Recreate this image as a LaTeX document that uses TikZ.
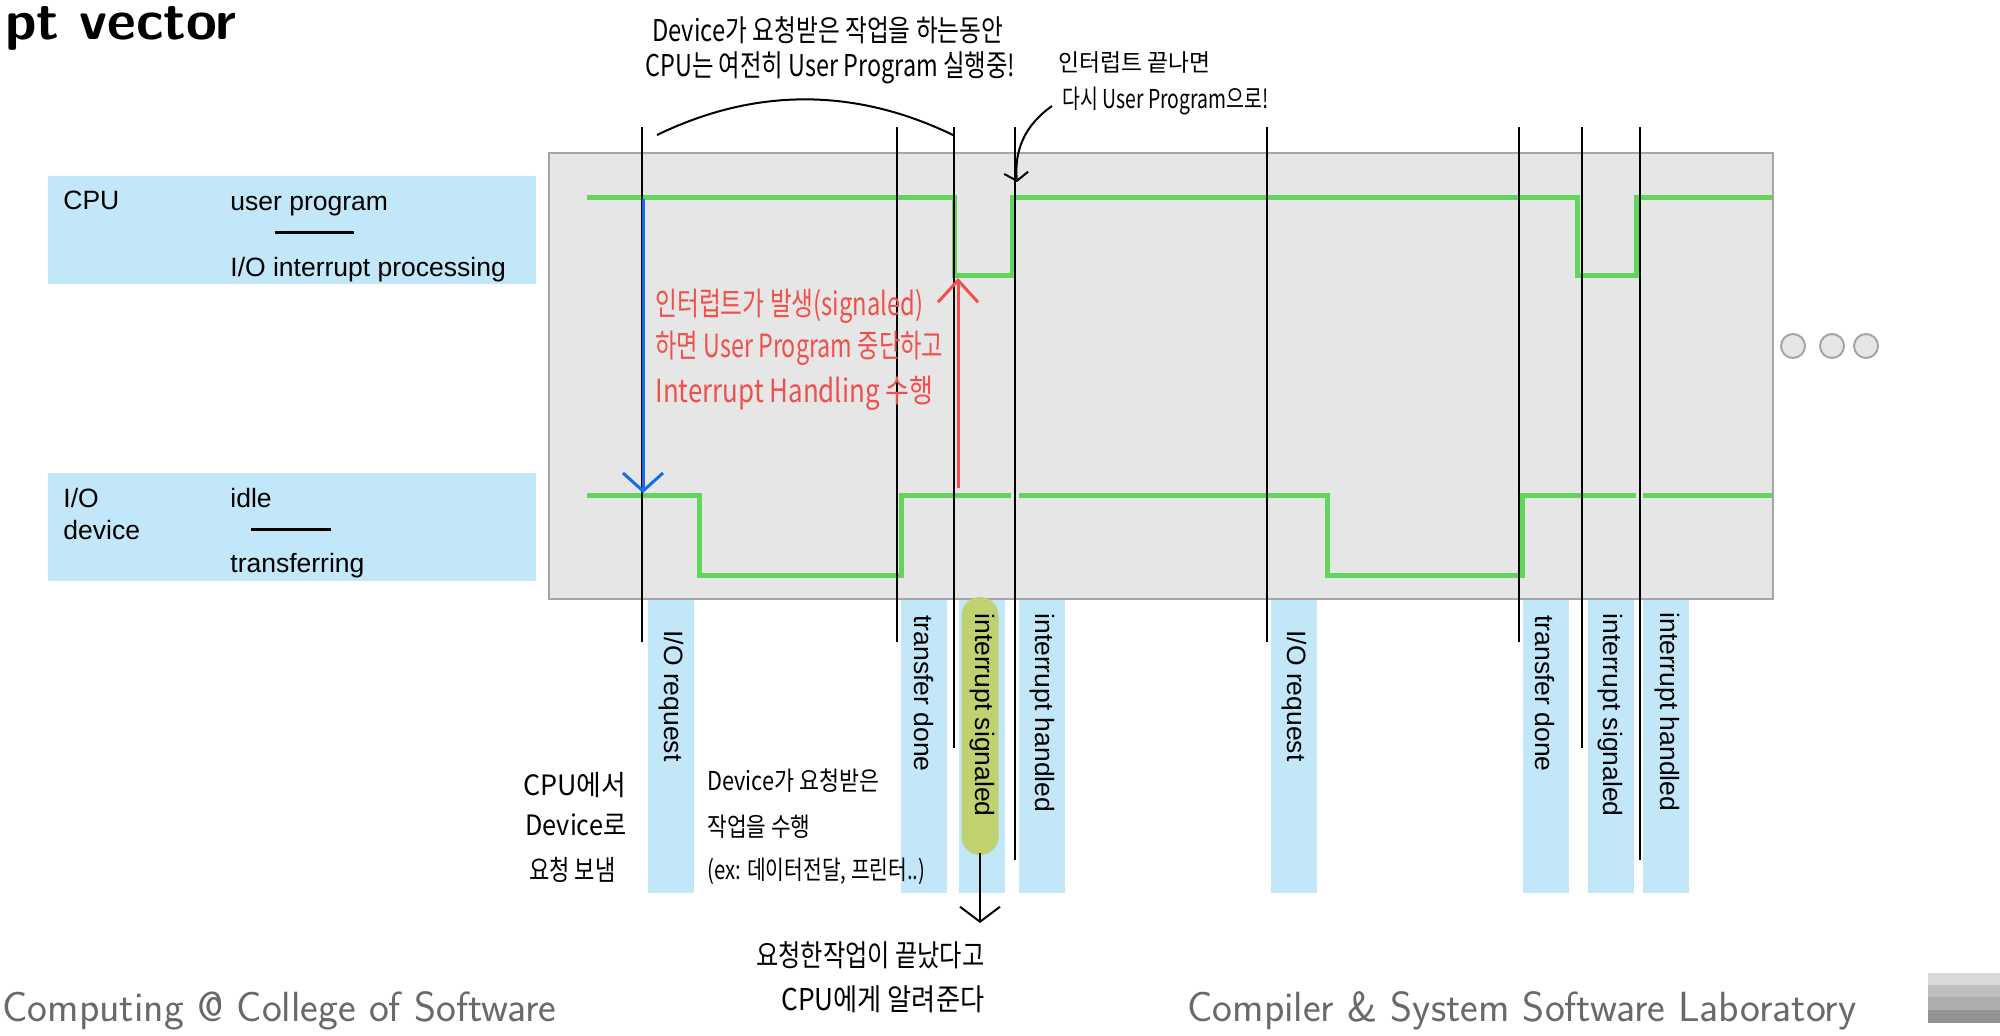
\documentclass[tikz,border=0pt]{standalone}
\usepackage{fontspec}
\setmainfont{Liberation Sans}
\newfontfamily\kr{Noto Sans CJK KR}
\usetikzlibrary{arrows.meta}
\definecolor{boxblue}{RGB}{193,231,249}
\definecolor{sigcol}{RGB}{192,210,112}
\definecolor{grn}{RGB}{98,214,92}
\definecolor{panelfill}{RGB}{230,230,230}
\definecolor{panelline}{RGB}{165,165,165}
\definecolor{anncol}{RGB}{240,80,75}
\definecolor{blucol}{RGB}{20,110,230}
\definecolor{footcol}{RGB}{105,105,105}
\newcommand\hw[2]{\resizebox{\dimexpr#1pt/2\relax}{\height}{#2}}
\newcommand\fsz[1]{\fontsize{#1}{#1}\selectfont}
\tikzset{
  lbox/.style={fill=boxblue, inner sep=0, anchor=north west, minimum width=244pt, minimum height=54pt},
  lbl/.style={inner sep=0, font=\fsz{13.25pt}},
  barbox/.style={fill=boxblue, inner sep=0, anchor=north west, minimum width=23pt, minimum height=146.5pt},
  rlbl/.style={inner sep=0, rotate=-90, anchor=west, font=\fsz{13.25pt}},
  vline/.style={line width=1pt, black},
  grnline/.style={line width=2.5pt, grn, line cap=butt, line join=miter},
  handln/.style={line width=1pt, black},
  handtxt/.style={inner sep=0, anchor=west, font=\kr\fsz{#1}},
  redtxt/.style={inner sep=0, anchor=west, text=anncol, font=\kr\fsz{16pt}},
  dotc/.style={circle, draw=panelline, fill=panelfill, line width=1pt, minimum size=12pt, inner sep=0},
  foottxt/.style={inner sep=0, anchor=base west, text=footcol, font=\sffamily\fsz{21.1pt}}
}
\begin{document}
\begin{tikzpicture}[x=0.5pt,y=-0.5pt]
\useasboundingbox (0,0) rectangle (2000,1035);

% title
\node[inner sep=0, anchor=base west, font=\sffamily\bfseries\fsz{28pt}] (title) at (5,39) {pt vector};

% left legend boxes
\node[lbox] (cpubox) at (48,176) {};
\node[lbl, anchor=base west] (cpu) at (63,209) {CPU};
\node[lbl, anchor=base west] (userprog) at (230,210) {user program};
\draw[line width=1.5pt] (275,232) -- (354,232);
\node[lbl, anchor=base west] (iointr) at (230,276) {I/O interrupt processing};

\node[lbox] (iobox) at (48,473) {};
\node[lbl, anchor=base west] (io) at (63,507) {I/O};
\node[lbl, anchor=base west] (device) at (63,539) {device};
\node[lbl, anchor=base west] (idle) at (230,507) {idle};
\draw[line width=1.5pt] (251,529) -- (331,529);
\node[lbl, anchor=base west] (transferring) at (230,572) {transferring};

% panel
\node[draw=panelline, fill=panelfill, line width=1pt, inner sep=0, anchor=north west,
      minimum width=612pt, minimum height=223pt] (panel) at (548,152) {};

% dots
\node[dotc] (dot1) at (1793,346) {};
\node[dotc] (dot2) at (1832,346) {};
\node[dotc] (dot3) at (1866,346) {};

% green timelines
\draw[grnline] (587,197) -- (954,197) -- (954,275) -- (1012,275) -- (1012,197) -- (1577,197)
   -- (1577,275) -- (1636,275) -- (1636,197) -- (1772,197);
\draw[grnline] (587,495) -- (699,495) -- (699,575) -- (901,575) -- (901,495) -- (1011,495);
\draw[grnline] (1019,495) -- (1327,495) -- (1327,575) -- (1522,575) -- (1522,495) -- (1636,495);
\draw[grnline] (1643,495) -- (1772,495);

% bars below
\node[barbox] (b1) at (648,600) {};
\node[barbox] (b2) at (901,600) {};
\node[barbox] (b3) at (959,600) {};
\node[barbox] (b4) at (1019,600) {};
\node[barbox] (b5) at (1271,600) {};
\node[barbox] (b6) at (1523,600) {};
\node[barbox] (b7) at (1588,600) {};
\node[barbox] (b8) at (1643,600) {};
\node[fill=sigcol, inner sep=0, rounded corners=9.25pt, minimum width=18.5pt, minimum height=129pt] (hl) at (980,726) {};

% rotated labels
\node[rlbl] (l1) at (671,630) {I/O request};
\node[rlbl] (l2) at (924,615) {transfer done};
\node[rlbl] (l3) at (982,613) {interrupt signaled};
\node[rlbl] (l4) at (1042,613) {interrupt handled};
\node[rlbl] (l5) at (1294,630) {I/O request};
\node[rlbl] (l6) at (1545,615) {transfer done};
\node[rlbl] (l7) at (1610,613) {interrupt signaled};
\node[rlbl] (l8) at (1667,612) {interrupt handled};

% vertical event lines
\draw[vline] (642,127) -- (642,642);
\draw[vline] (897,127) -- (897,642);
\draw[vline] (954,127) -- (954,748);
\draw[vline] (1015,127) -- (1015,860);
\draw[vline] (1267,127) -- (1267,642);
\draw[vline] (1519,127) -- (1519,642);
\draw[vline] (1582,127) -- (1582,748);
\draw[vline] (1640,127) -- (1640,860);

% blue and red arrows
\coordinate (bs) at (643,199);
\coordinate (be) at (643,493);
\draw[blucol, line width=1.5pt, -{Straight Barb[length=9pt, width=20pt]}] (bs) -- (be);
\coordinate (rs) at (958,488);
\coordinate (re) at (958,278);
\draw[anncol, line width=1.5pt, -{Straight Barb[length=11pt, width=20pt]}] (rs) -- (re);

% red annotation
\node[redtxt] (r1) at (655,306) {\hw{268}{인터럽트가 발생(signaled)}};
\node[redtxt] (r2) at (655,348) {\hw{288}{하면 User Program 중단하고}};
\node[redtxt] (r3) at (655,393) {\hw{278}{Interrupt Handling 수행}};

% top annotations
\node[handtxt=15pt] (t1) at (652,30) {\hw{351}{Device가 요청받은 작업을 하는동안}};
\node[handtxt=15pt] (t2) at (645,68) {\hw{370}{CPU는 여전히 User Program 실행중!}};
\coordinate (arcL) at (657,135);
\coordinate (arcR) at (953,135);
\draw[handln] (arcL) .. controls (760,85) and (860,90) .. (arcR);

\node[handtxt=12pt] (t3) at (1058,63) {\hw{152}{인터럽트 끝나면}};
\node[handtxt=13pt] (t4) at (1062,101) {\hw{206}{다시 User Program으로!}};
\coordinate (cs) at (1052,106);
\coordinate (ce) at (1017,182);
\draw[handln, -{Straight Barb[length=4pt, width=12pt]}] (cs) .. controls (1025,125) and (1014,150) .. (ce);

% bottom annotations
\node[handtxt=14pt] (c1) at (523,785) {\hw{103}{CPU에서}};
\node[handtxt=14pt] (c2) at (525,825) {\hw{101}{Device로}};
\node[handtxt=14pt] (c3) at (529,870) {\hw{86}{요청 보냄}};

\node[handtxt=13pt] (d1) at (707,781) {\hw{172}{Device가 요청받은}};
\node[handtxt=13pt] (d2) at (707,827) {\hw{103}{작업을 수행}};
\node[handtxt=13pt] (d3) at (707,871) {\hw{218}{(ex: 데이터전달, 프린터..)}};

\coordinate (as) at (980,853);
\coordinate (ae) at (980,923);
\draw[handln, -{Straight Barb[length=7.5pt, width=20pt]}] (as) -- (ae);
\node[handtxt=15pt] (e1) at (756,955) {\hw{228}{요청한작업이 끝났다고}};
\node[handtxt=15pt] (e2) at (781,999) {\hw{203}{CPU에게 알려준다}};

% footer
\node[foottxt] (footl) at (2,1021) {Computing @ College of Software};
\node[foottxt] (footr) at (1187,1021) {Compiler \& System Software Laboratory};
\fill[gray!30] (1928,973) rectangle (2000,985);
\fill[gray!50] (1928,985) rectangle (2000,997);
\fill[gray!64] (1928,997) rectangle (2000,1010);
\fill[gray!85] (1928,1010) rectangle (2000,1023);
\end{tikzpicture}
\end{document}
